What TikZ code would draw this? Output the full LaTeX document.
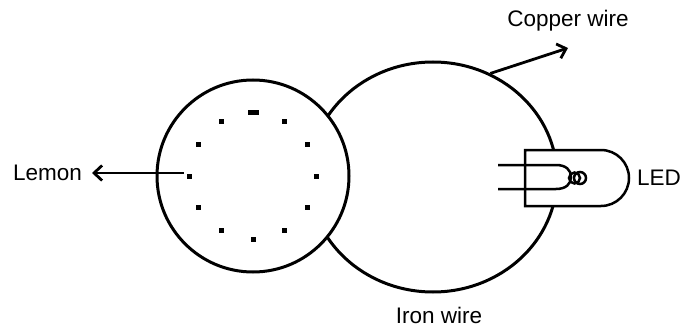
\documentclass[tikz,border=0pt]{standalone}
\usepackage{fontspec}
\setmainfont{Liberation Sans}
\usepackage{tikz}
\usetikzlibrary{shapes.geometric, arrows.meta, positioning}
\tikzstyle{fruit} = [circle,
minimum size=192pt,
inner sep=0pt,
draw=black, line width=3pt,
fill=white]
\tikzstyle{loop} = [ellipse,
minimum width=248pt,
minimum height=230pt,
inner sep=0pt,
draw=black, line width=3pt]
\tikzstyle{seed} = [rectangle,
minimum size=5pt,
inner sep=0pt,
fill=black]
\tikzstyle{tag} = [inner sep=0pt,
font=\fontsize{22.5}{26}\selectfont]
\tikzstyle{arrow} = [line width=2.8pt,-{Straight Barb[length=8pt,width=15pt]}]
\tikzstyle{lead} = [line width=2.5pt]

\begin{document}
\begin{tikzpicture}[x=1pt, y=-1pt]
    \useasboundingbox (0,0) rectangle (683,329);

    \node (wire) [loop] at (433,177) {};
    \node (lemon) [fruit] at (253,176) {};

    % seeds round the lemon, the top one (270, y points down) is a short dash
    \foreach \a in {0,30,60,90,120,150,180,210,240,300,330}
        \node (d\a) [seed] at ([shift={(\a:63.5)}]lemon.center) {};
    \node (d270) [seed, minimum width=11pt, minimum height=5.5pt] at ([shift={(270:63.5)}]lemon.center) {};

    % LED body over the wire
    \coordinate (led) at (525,178);
    \draw[lead, fill=white] (led) ++(0,-28) -- ++(76,0) arc (-90:90:28) -- ++(-76,0) -- cycle;
    \draw[lead] (498,165) -- (556,165) .. controls (566,165) and (571,170) .. (571,177)
                .. controls (571,184) and (566,189) .. (556,189) -- (498,189);
    \draw[lead] (574.5,178) circle (5.5);
    \draw[lead] (580,178) circle (6);

    \node (lemontxt) [tag, anchor=east] at (82,173) {Lemon};
    \node (copper) [tag] at (568,21) {Copper wire};
    \node (iron) [tag, below=13pt of wire.south, xshift=6pt] {Iron wire};
    \node (ledtxt) [tag, anchor=west] at (637,178) {LED};
    \coordinate (cutip) at (568,48);

    \draw [arrow, shorten <=6pt, shorten >=10pt] ([yshift=3pt]d180.center) -- (lemontxt.east);
    \draw [arrow] (wire.61) -- (cutip);
\end{tikzpicture}
\end{document}
